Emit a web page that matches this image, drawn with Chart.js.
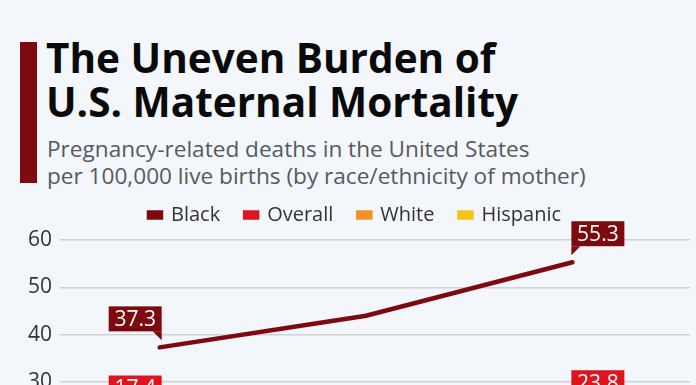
<!DOCTYPE html>
<html>
<head>
<meta charset="utf-8">
<script src="https://cdn.jsdelivr.net/npm/chart.js@4.4.1/dist/chart.umd.min.js"></script>
<style>
  html, body { margin: 0; padding: 0; }
  body {
    width: 696px; height: 385px; overflow: hidden; position: relative;
    background: #f3f6fa; font-family: 'Open Sans', sans-serif;
  }
  .bar { position: absolute; left: 20px; top: 42px; width: 17px; height: 141px; background: #7d0a0f; }
  h1 {
    position: absolute; left: 46px; top: 36px; margin: 0;
    font-size: 40.5px; line-height: 44px; font-weight: 700; color: #0a0a0a;
  }
  .sub {
    position: absolute; left: 47px; top: 135px; margin: 0;
    font-size: 22.6px; line-height: 27px; color: #555b60;
  }
  .wrap { position: absolute; left: 0; top: 180px; width: 696px; height: 393px; }
</style>
</head>
<body>
<div class="bar"></div>
<h1>The Uneven Burden of<br>U.S. Maternal Mortality</h1>
<p class="sub">Pregnancy-related deaths in the United States<br>per 100,000 live births (by race/ethnicity of mother)</p>
<div class="wrap"><canvas id="chart" width="696" height="393"></canvas></div>
<script>
// 数据
const years = [2018, 2019, 2020];
const black = [37.3, 44.0, 55.3];
const overall = [17.4, 20.1, 23.8];
const white = [14.9, 17.9, 19.1];
const hispanic = [11.8, 12.6, 18.2];
const yTicks = [0, 10, 20, 30, 40, 50, 60];

const colors = {
    Black: '#7d0a0f',
    Overall: '#e0141e',
    White: '#f39129',
    Hispanic: '#f2c318'
};

function toPoints(values) {
    return years.map((y, i) => ({ x: y, y: values[i] }));
}

// 图例下方留白
const legendSpacer = {
    id: 'legendSpacer',
    beforeInit(chart) {
        const fit = chart.legend.fit;
        chart.legend.fit = function () {
            fit.call(this);
            this.height += 5;
        };
    }
};

// 首尾数值标签（带小三角）
const valueBoxes = {
    id: 'valueBoxes',
    afterDatasetsDraw(chart, args, opts) {
        const ctx = chart.ctx;
        const w = 53, h = 25, tail = 9, gap = 16;
        chart.data.datasets.forEach((ds, di) => {
            const meta = chart.getDatasetMeta(di);
            const last = meta.data.length - 1;
            [0, last].forEach(i => {
                const pt = meta.data[i];
                const below = opts.below.includes(ds.label);
                const lift = opts.lift[ds.label + '-' + i] || 0;
                const left = i === 0 ? pt.x + 2 - w : pt.x - 1;
                const top = below ? pt.y + gap : pt.y - gap - h - lift;
                ctx.save();
                ctx.fillStyle = ds.borderColor;
                ctx.fillRect(left, top, w, h);
                ctx.beginPath();
                const edge = i === 0 ? left + w : left;
                const dir = i === 0 ? -1 : 1;
                if (below) {
                    ctx.moveTo(edge, top);
                    ctx.lineTo(edge + dir * tail, top);
                    ctx.lineTo(edge, top - tail);
                } else {
                    ctx.moveTo(edge, top + h);
                    ctx.lineTo(edge + dir * tail, top + h);
                    ctx.lineTo(edge, top + h + tail);
                }
                ctx.closePath();
                ctx.fill();
                ctx.fillStyle = '#ffffff';
                ctx.font = "500 21px 'Open Sans', sans-serif";
                ctx.textAlign = 'center';
                ctx.textBaseline = 'middle';
                ctx.fillText(ds.data[i].y.toFixed(1), left + w / 2, top + h / 2 + 1);
                ctx.restore();
            });
        });
    }
};

Chart.defaults.font.family = "'Open Sans', sans-serif";
Chart.defaults.color = '#333333';

const ctx = document.getElementById('chart').getContext('2d');
new Chart(ctx, {
    type: 'line',
    data: {
        datasets: [
            { label: 'Black', data: toPoints(black), borderColor: colors.Black, backgroundColor: colors.Black },
            { label: 'Overall', data: toPoints(overall), borderColor: colors.Overall, backgroundColor: colors.Overall },
            { label: 'White', data: toPoints(white), borderColor: colors.White, backgroundColor: colors.White },
            { label: 'Hispanic', data: toPoints(hispanic), borderColor: colors.Hispanic, backgroundColor: colors.Hispanic }
        ].map(d => Object.assign(d, {
            borderWidth: 4.5,
            borderCapStyle: 'round',
            pointRadius: 0,
            tension: 0
        }))
    },
    options: {
        responsive: false,
        animation: false,
        layout: { padding: { left: 20, right: 6, top: 0, bottom: 0 } },
        plugins: {
            legend: {
                position: 'top',
                labels: {
                    boxWidth: 12,
                    boxHeight: 5,
                    padding: 25,
                    font: { size: 20 },
                    color: '#333333'
                }
            },
            tooltip: { enabled: false },
            valueBoxes: {
                below: ['Hispanic'],
                lift: { 'Overall-0': 25 }
            }
        },
        scales: {
            x: {
                type: 'linear',
                min: 2017.517,
                max: 2020.57,
                afterBuildTicks(scale) {
                    scale.ticks = years.map(v => ({ value: v }));
                },
                grid: { display: false },
                border: { display: false },
                ticks: { font: { size: 21 }, padding: 8, callback: v => String(v) }
            },
            y: {
                min: 0,
                max: 60,
                afterBuildTicks(scale) {
                    scale.ticks = yTicks.map(v => ({ value: v }));
                },
                grid: { color: '#cfd3d8', lineWidth: 1.5, drawTicks: false },
                border: { display: false },
                ticks: { font: { size: 21 }, padding: 8 }
            }
        }
    },
    plugins: [legendSpacer, valueBoxes]
});
</script>
</body>
</html>
